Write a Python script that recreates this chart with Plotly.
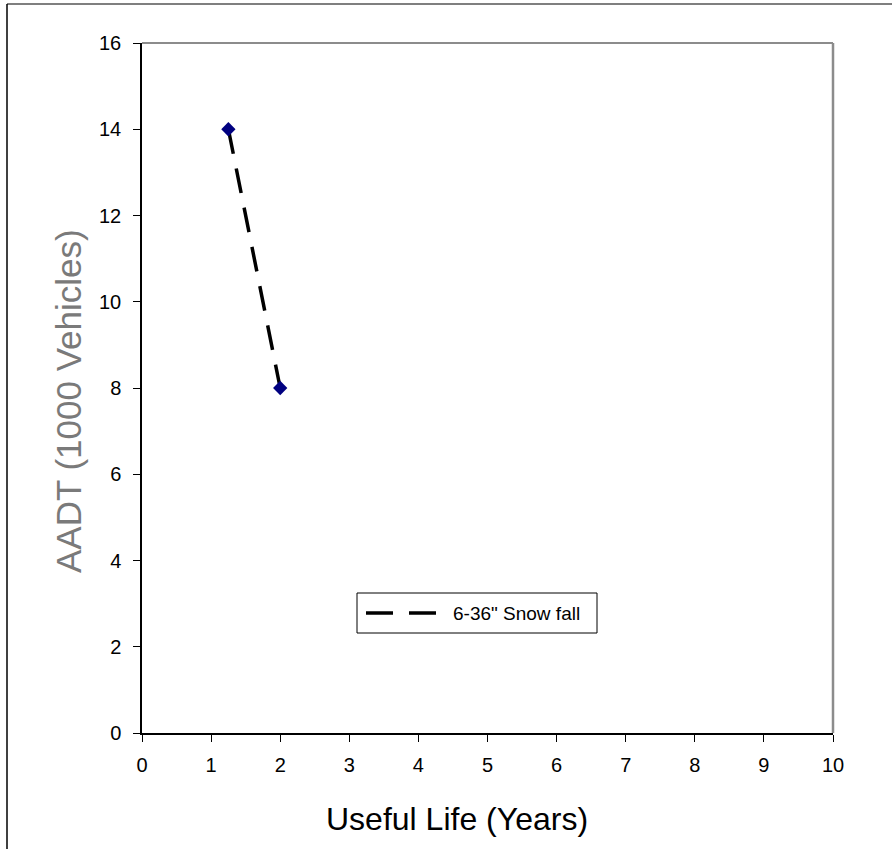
import plotly.graph_objects as go

# Useful life vs. AADT for the 6-36" snowfall band
useful_life_years = [1.25, 2.0]
aadt_thousands = [14, 8]
series_name = '6-36" Snow fall'

x_ticks = list(range(0, 11))
y_ticks = list(range(0, 17, 2))

FONT = "Liberation Sans, Arial, sans-serif"

# plot area in pixels: x 142..833, y 43..733 of an 892x849 page
W, H = 892, 849
L, R, T, B = 142, 892 - 833, 43, 849 - 733
PW, PH = W - L - R, H - T - B


def px(x):
    return (x - L) / PW


def py(y):
    return (H - B - y) / PH


fig = go.Figure()
fig.add_trace(go.Scatter(
    x=useful_life_years, y=aadt_thousands, name=series_name,
    mode="lines+markers",
    line=dict(color="black", width=3.5, dash="25px,15px"),
    marker=dict(symbol="diamond", size=11, color="#000080"),
    showlegend=False,
))

axis_common = dict(
    showgrid=False, zeroline=False, showline=True, linecolor="black",
    linewidth=1.5, ticks="outside", ticklen=7, tickcolor="black",
    tickwidth=1, tickfont=dict(family=FONT, size=20, color="black"),
)

fig.update_xaxes(range=[0, 10], tickvals=x_ticks, ticktext=[str(v) for v in x_ticks],
                 ticklabelstandoff=6, **axis_common)
fig.update_yaxes(range=[0, 16], tickvals=y_ticks, ticktext=[str(v) for v in y_ticks],
                 ticklabelstandoff=8, **axis_common)

shapes = [
    # grey top and right frame of the plot area
    dict(type="line", xref="paper", yref="paper", x0=0, x1=1, y0=1, y1=1,
         line=dict(color="#8c8c8c", width=2)),
    dict(type="line", xref="paper", yref="paper", x0=1, x1=1, y0=0, y1=1,
         line=dict(color="#8c8c8c", width=2.5)),
    # outer chart border (top and left)
    dict(type="line", xref="paper", yref="paper", x0=px(7), x1=px(W), y0=py(4), y1=py(4),
         line=dict(color="#555555", width=1.5)),
    dict(type="line", xref="paper", yref="paper", x0=px(7), x1=px(7), y0=py(4), y1=py(H),
         line=dict(color="black", width=1.5)),
    # legend box and dashed sample
    dict(type="rect", xref="paper", yref="paper", x0=px(357), x1=px(597),
         y0=py(633), y1=py(593), line=dict(color="black", width=1), fillcolor="white"),
    dict(type="line", xref="paper", yref="paper", x0=px(366), x1=px(437),
         y0=py(613), y1=py(613), line=dict(color="black", width=3.5, dash="27px,16px")),
]

annotations = [
    dict(text=series_name, xref="paper", yref="paper", x=px(451), y=py(613),
         xanchor="left", yanchor="middle", showarrow=False,
         font=dict(family=FONT, size=19, color="black")),
    dict(text="Useful Life (Years)", xref="paper", yref="paper", x=px(457), y=py(819),
         xanchor="center", yanchor="middle", showarrow=False,
         font=dict(family=FONT, size=32, color="black")),
    dict(text="AADT (1000 Vehicles)", xref="paper", yref="paper", x=px(68), y=py(401),
         xanchor="center", yanchor="middle", showarrow=False, textangle=-90,
         font=dict(family=FONT, size=35, color="#7a7a7a")),
]

fig.update_layout(
    width=W, height=H,
    margin=dict(l=L, r=R, t=T, b=B),
    paper_bgcolor="white", plot_bgcolor="white",
    shapes=shapes, annotations=annotations,
)

fig.write_html("out.html")
